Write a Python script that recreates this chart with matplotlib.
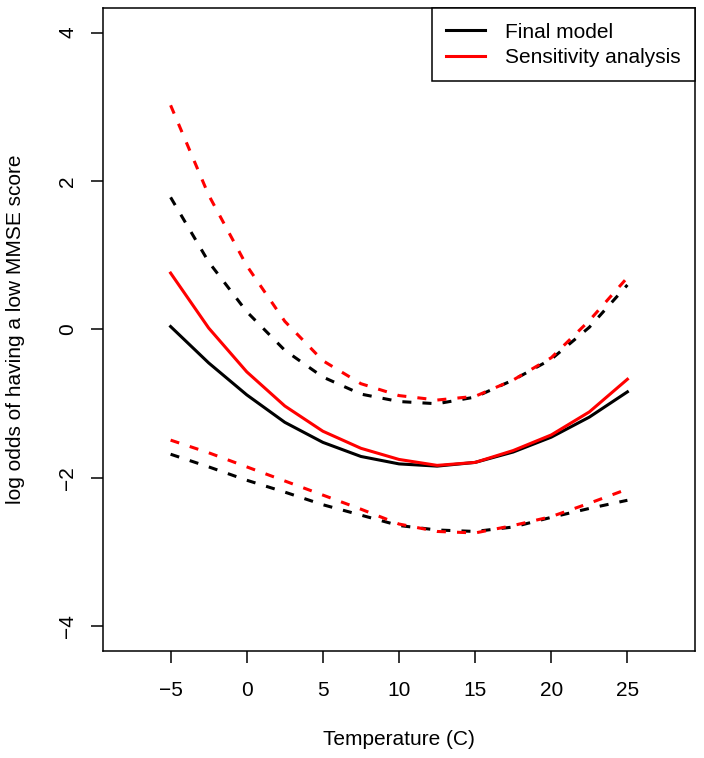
import matplotlib
matplotlib.use('Agg')
import matplotlib.pyplot as plt

# ==============================
# Dados
# ==============================
temperatura = [-5, -2.5, 0, 2.5, 5, 7.5, 10, 12.5, 15, 17.5, 20, 22.5, 25]

# modelo final (preto)
final_est = [0.04, -0.45, -0.88, -1.25, -1.52, -1.71, -1.81, -1.84, -1.79, -1.65, -1.45, -1.18, -0.84]
final_sup = [1.78, 0.91, 0.24, -0.28, -0.64, -0.87, -0.97, -1.00, -0.91, -0.68, -0.40, 0.03, 0.60]
final_inf = [-1.68, -1.85, -2.03, -2.19, -2.36, -2.50, -2.64, -2.70, -2.72, -2.66, -2.53, -2.41, -2.30]

# analise de sensibilidade (vermelho)
sens_est = [0.76, 0.02, -0.57, -1.03, -1.37, -1.60, -1.75, -1.83, -1.79, -1.63, -1.42, -1.11, -0.67]
sens_sup = [3.02, 1.81, 0.86, 0.11, -0.42, -0.73, -0.89, -0.95, -0.90, -0.68, -0.38, 0.12, 0.70]
sens_inf = [-1.49, -1.66, -1.85, -2.04, -2.23, -2.42, -2.62, -2.72, -2.74, -2.64, -2.52, -2.34, -2.15]

x_ticks = [-5, 0, 5, 10, 15, 20, 25]
y_ticks = [-4, -2, 0, 2, 4]

# ==============================
# Estilo
# ==============================
plt.rcParams['font.family'] = ['Liberation Sans', 'DejaVu Sans']
plt.rcParams['font.size'] = 15
plt.rcParams['lines.scale_dashes'] = False

fig = plt.figure(figsize=(7.04, 7.58), dpi=100)
ax = fig.add_axes([103/704, 1 - 651/758, 592/704, 643/758])

lw = 2.2
tracejado = (0, (6.5, 8))

ax.plot(temperatura, final_est, color='black', lw=lw, label='Final model')
ax.plot(temperatura, sens_est, color='red', lw=lw, label='Sensitivity analysis')
ax.plot(temperatura, final_sup, color='black', lw=lw, linestyle=tracejado)
ax.plot(temperatura, final_inf, color='black', lw=lw, linestyle=tracejado)
ax.plot(temperatura, sens_sup, color='red', lw=lw, linestyle=tracejado)
ax.plot(temperatura, sens_inf, color='red', lw=lw, linestyle=tracejado)

ax.set_xlim(-9.44, 29.44)
ax.set_ylim(-4.33, 4.33)
ax.set_xticks(x_ticks)
ax.set_yticks(y_ticks)
ax.set_yticklabels(['\u22124', '\u22122', '0', '2', '4'])
ax.set_xticklabels(['\u22125', '0', '5', '10', '15', '20', '25'])

for s in ax.spines.values():
    s.set_linewidth(1.1)

ax.tick_params(axis='x', direction='out', length=8.7, width=1.1, pad=13, labelsize=15)
ax.tick_params(axis='y', direction='out', length=8.7, width=1.1, pad=10, labelsize=15)
plt.setp(ax.get_yticklabels(), rotation=90, va='center')

ax.set_xlabel('Temperature (C)', fontsize=15, va='center')
ax.xaxis.set_label_coords(0.5, -0.137)
ax.set_ylabel('log odds of having a low MMSE score', fontsize=15, va='center')
ax.yaxis.set_label_coords(-0.147, 0.5)

# legenda no canto superior direito
leg = ax.legend(loc='upper right', bbox_to_anchor=(1, 1), borderaxespad=0,
                fancybox=False, framealpha=1, edgecolor='black', fontsize=15,
                handlelength=1.85, handletextpad=0.95, borderpad=0.7,
                labelspacing=0.3)
leg.get_frame().set_linewidth(1.1)

fig.savefig('out.png', dpi=100)
